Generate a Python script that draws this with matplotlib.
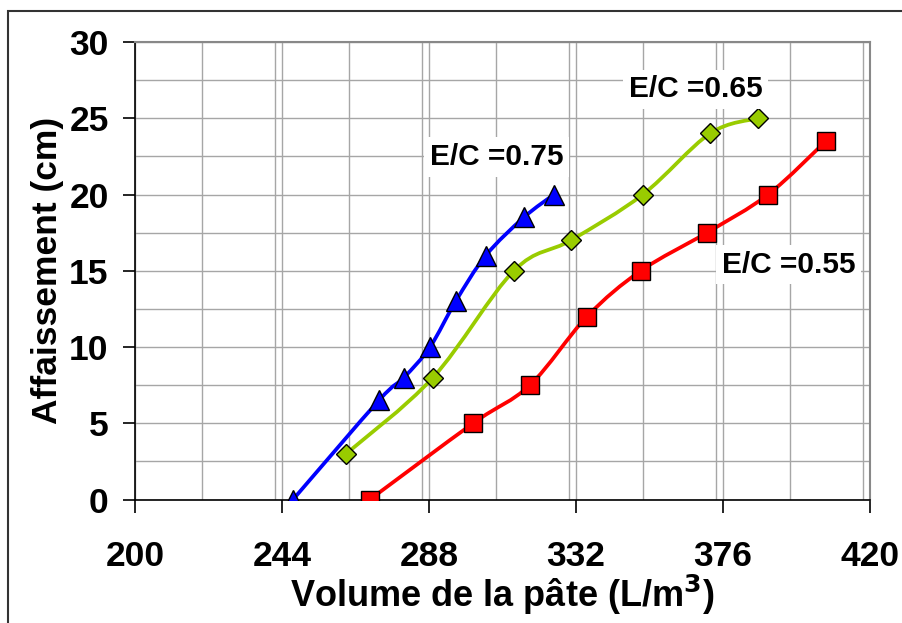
import numpy as np
import matplotlib.pyplot as plt
from matplotlib.path import Path
from matplotlib.patches import PathPatch, Rectangle
from matplotlib.ticker import MultipleLocator

# E/C = 0.75
x_075 = [247.3, 273.0, 280.5, 288.3, 296.0, 305.0, 316.4, 325.4]
y_075 = [0, 6.5, 8, 10, 13, 16, 18.5, 20]
# E/C = 0.65
x_065 = [263.2, 289.2, 313.4, 330.5, 352.0, 372.1, 386.5]
y_065 = [3, 8, 15, 17, 20, 24, 25]
# E/C = 0.55
x_055 = [270.3, 301.2, 318.2, 335.3, 351.4, 371.2, 389.5, 406.8]
y_055 = [0, 5, 7.5, 12, 15, 17.5, 20, 23.5]

labels = ['E/C =0.75', 'E/C =0.65', 'E/C =0.55']
xticks = [200, 244, 288, 332, 376, 420]

plt.rcParams['font.family'] = ['Liberation Sans', 'DejaVu Sans']
plt.rcParams['font.weight'] = 'bold'


def smooth_path(xs, ys):
    # excel-like smoothed line: cubic bezier through the points
    p = np.column_stack([xs, ys]).astype(float)
    n = len(p)
    verts = [p[0]]
    codes = [Path.MOVETO]
    for i in range(n - 1):
        p0 = p[i - 1] if i > 0 else p[i]
        p3 = p[i + 2] if i + 2 < n else p[i + 1]
        c1 = p[i] + (p[i + 1] - p0) / 6
        c2 = p[i + 1] - (p3 - p[i]) / 6
        verts += [c1, c2, p[i + 1]]
        codes += [Path.CURVE4] * 3
    return Path(verts, codes)


fig = plt.figure(figsize=(9.02, 6.23), dpi=100)
ax = fig.add_axes([0.1497, 0.1982, 0.8148, 0.7344])

# outer chart frame (cropped at right and bottom)
fig.patches.append(Rectangle((8 / 902, -0.05), 1.1, 1 - 11 / 623 + 0.05,
                             transform=fig.transFigure, fill=False,
                             edgecolor='#333333', linewidth=1.5))

series = [
    (x_075, y_075, 'blue', '^', 15),
    (x_065, y_065, '#99CC00', 'D', 10),
    (x_055, y_055, 'red', 's', 13),
]
for xs, ys, col, mk, ms in series:
    ax.add_patch(PathPatch(smooth_path(xs, ys), facecolor='none',
                           edgecolor=col, linewidth=2.7, zorder=3))
    ax.plot(xs, ys, linestyle='none', marker=mk, markersize=ms,
            markerfacecolor=col, markeredgecolor='black',
            markeredgewidth=1.0, zorder=4)

ax.set_xlim(200, 420)
ax.set_ylim(0, 30)
ax.set_xticks(xticks)
ax.xaxis.set_minor_locator(MultipleLocator(22))
ax.yaxis.set_major_locator(MultipleLocator(5))
ax.yaxis.set_minor_locator(MultipleLocator(2.5))
ax.grid(which='both', color='#a6a6a6', linewidth=1.0)
ax.set_axisbelow(True)
ax.tick_params(which='major', direction='out', length=9, width=1.2,
               labelsize=25.5, pad=4)
ax.tick_params(axis='x', which='major', pad=20)
ax.tick_params(axis='y', which='major', pad=10)
ax.tick_params(which='minor', length=0)

for side in ['top', 'right']:
    ax.spines[side].set_color('#888888')
    ax.spines[side].set_linewidth(1.5)
for side in ['left', 'bottom']:
    ax.spines[side].set_color('black')
    ax.spines[side].set_linewidth(1.2)

ax.set_xlabel('Volume de la pâte (L/m$^{\\mathbf{3}}$)', fontsize=26,
              fontweight='bold', labelpad=0)
ax.set_ylabel('Affaissement (cm)', fontsize=25.5, fontweight='bold',
              labelpad=4)

label_pos = [(308.3, 22.45), (367.9, 26.9), (395.7, 15.4)]
for txt, (lx, ly) in zip(labels, label_pos):
    ax.text(lx, ly, txt, fontsize=21.5, fontweight='bold', ha='center',
            va='center', zorder=5,
            bbox=dict(facecolor='white', edgecolor='none', pad=4))

fig.savefig('out.png', dpi=100)
